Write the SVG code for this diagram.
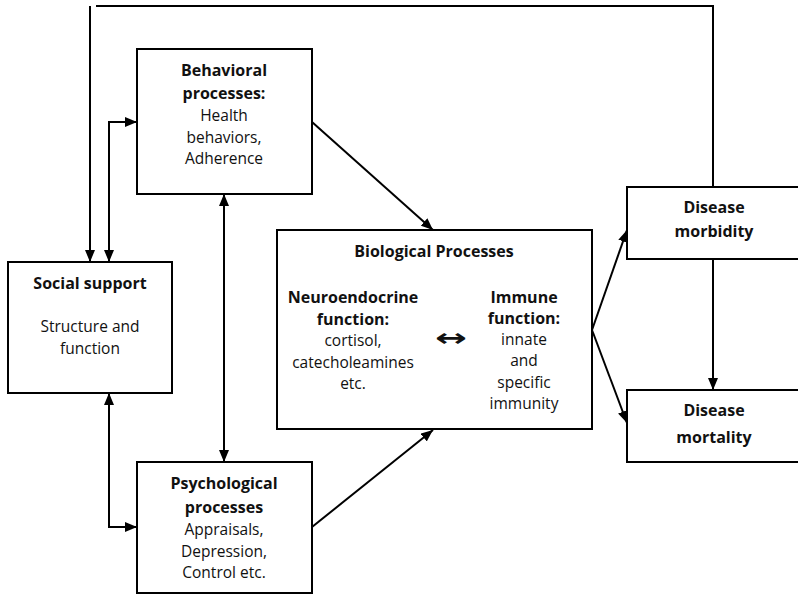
<svg xmlns="http://www.w3.org/2000/svg" width="798" height="594" viewBox="0 0 798 594">
<defs>
<marker id="ah" viewBox="0 0 12 10" refX="12" refY="5" markerWidth="12" markerHeight="10" markerUnits="userSpaceOnUse" orient="auto-start-reverse">
<path d="M0,0 L12,5 L0,10 z" fill="#000"/>
</marker>
<style>
.box{fill:#fff;stroke:#000;stroke-width:2}
.c{fill:none;stroke:#000;stroke-width:2}
text{font-family:"Open Sans","Noto Sans","Liberation Sans",sans-serif;font-size:15.5px;text-anchor:middle;fill:#111}
.b{font-weight:bold;font-size:16px}
</style>
</defs>
<rect width="798" height="594" fill="#fff"/>
<g id="connectors">
<path class="c" d="M96,6 L713,6 L713,187"/>
<path class="c" d="M90,6 L90,262" marker-end="url(#ah)"/>
<path class="c" d="M109,262 L109,122 L137,122" marker-start="url(#ah)" marker-end="url(#ah)"/>
<path class="c" d="M109,393 L109,527 L137,527" marker-start="url(#ah)" marker-end="url(#ah)"/>
<path class="c" d="M224,194 L224,462" marker-start="url(#ah)" marker-end="url(#ah)"/>
<path class="c" d="M312,122 L433,230" marker-end="url(#ah)"/>
<path class="c" d="M312,527 L433,430" marker-end="url(#ah)"/>
<path class="c" d="M592,330 L627,230" marker-end="url(#ah)"/>
<path class="c" d="M592,330 L627,423" marker-end="url(#ah)"/>
<path class="c" d="M713,259 L713,390" marker-end="url(#ah)"/>
</g>
<g id="behavioral">
<rect class="box" x="137" y="49" width="175" height="145"/>
<text class="b" x="224" y="76">Behavioral</text>
<text class="b" x="224" y="99">processes:</text>
<text x="224" y="121">Health</text>
<text x="224" y="143">behaviors,</text>
<text x="224" y="164">Adherence</text>
</g>
<g id="social">
<rect class="box" x="8" y="262" width="164" height="131"/>
<text class="b" x="90" y="289">Social support</text>
<text x="90" y="332">Structure and</text>
<text x="90" y="354">function</text>
</g>
<g id="biological">
<rect class="box" x="277" y="230" width="315" height="199"/>
<text class="b" x="434" y="257">Biological Processes</text>
<text class="b" x="353" y="303">Neuroendocrine</text>
<text class="b" x="353" y="325">function:</text>
<text x="353" y="346">cortisol,</text>
<text x="353" y="368">catecholeamines</text>
<text x="353" y="389">etc.</text>
<text class="b" x="451" y="346" textLength="32" lengthAdjust="spacingAndGlyphs" style="font-family:'DejaVu Sans',sans-serif;font-size:24px">↔</text>
<text class="b" x="524" y="303">Immune</text>
<text class="b" x="524" y="324">function:</text>
<text x="524" y="345">innate</text>
<text x="524" y="366">and</text>
<text x="524" y="388">specific</text>
<text x="524" y="409">immunity</text>
</g>
<g id="morbidity">
<rect class="box" x="627" y="187" width="172" height="72"/>
<text class="b" x="714" y="213">Disease</text>
<text class="b" x="714" y="237">morbidity</text>
</g>
<g id="mortality">
<rect class="box" x="627" y="390" width="172" height="72"/>
<text class="b" x="714" y="416">Disease</text>
<text class="b" x="714" y="443">mortality</text>
</g>
<g id="psychological">
<rect class="box" x="137" y="462" width="175" height="131"/>
<text class="b" x="224" y="489">Psychological</text>
<text class="b" x="224" y="513">processes</text>
<text x="224" y="535">Appraisals,</text>
<text x="224" y="557">Depression,</text>
<text x="224" y="578">Control etc.</text>
</g>
</svg>
